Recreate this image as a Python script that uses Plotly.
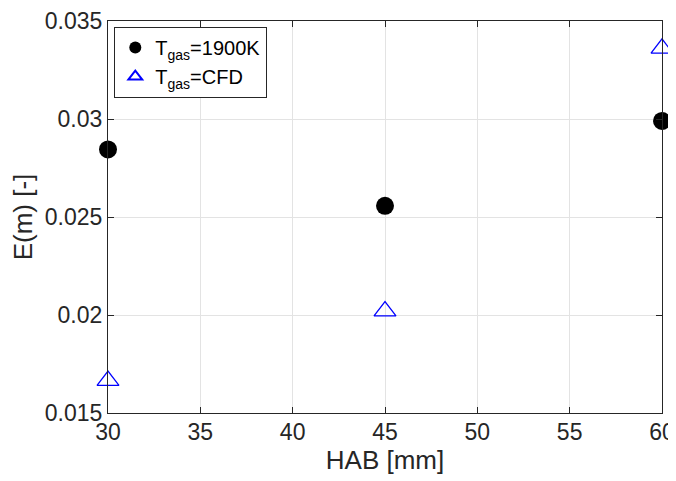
import plotly.graph_objects as go

hab = [30, 45, 60]
e_1900k = [0.02845, 0.02557, 0.0299]
e_cfd = [0.01665, 0.0202, 0.0336]
x_ticks = [30, 35, 40, 45, 50, 55, 60]
y_ticks = [0.015, 0.02, 0.025, 0.03, 0.035]
y_tick_labels = ["0.015", "0.02", "0.025", "0.03", "0.035"]

FONT = "Liberation Sans, Arial, sans-serif"

fig = go.Figure()
fig.add_trace(go.Scatter(
    x=hab, y=e_1900k, mode="markers",
    name="T<sub>gas</sub>=1900K",
    marker=dict(symbol="circle", size=18, color="black", line=dict(width=0)),
    cliponaxis=False,
))
fig.add_trace(go.Scatter(
    x=hab, y=e_cfd, mode="markers",
    name="T<sub>gas</sub>=CFD",
    marker=dict(symbol="triangle-up-open", size=19, color="blue", line=dict(width=1.3, color="blue")),
    cliponaxis=False,
))

axis_common = dict(
    showline=True, linecolor="#262626", linewidth=1.2, mirror="ticks",
    ticks="inside", ticklen=6, tickcolor="#262626",
    showgrid=True, gridcolor="#e3e3e3", gridwidth=1,
    zeroline=False, ticklabeloverflow="allow", automargin=False,
    tickfont=dict(family=FONT, size=23, color="#262626"),
    title_font=dict(family=FONT, size=26, color="#262626"),
)

fig.update_xaxes(range=[30, 60], tickvals=x_ticks, title_text="HAB [mm]",
                 title_standoff=4, ticklabelstandoff=-2, **axis_common)
fig.update_yaxes(range=[0.015, 0.035], tickvals=y_ticks, ticktext=y_tick_labels,
                 title_text="E(m) [-]", title_standoff=6, **axis_common)

fig.update_layout(
    width=668, height=473,
    margin=dict(l=100, r=14, t=13, b=68),
    plot_bgcolor="white", paper_bgcolor="white",
    font=dict(family=FONT, color="black"),
    legend=dict(
        x=0.011, y=0.985, xanchor="left", yanchor="top",
        bgcolor="white", bordercolor="#262626", borderwidth=1.2,
        font=dict(family=FONT, size=20, color="black"),
        itemsizing="constant", itemwidth=30, tracegroupgap=0,
    ),
    showlegend=True,
)

fig.write_html("out.html")
